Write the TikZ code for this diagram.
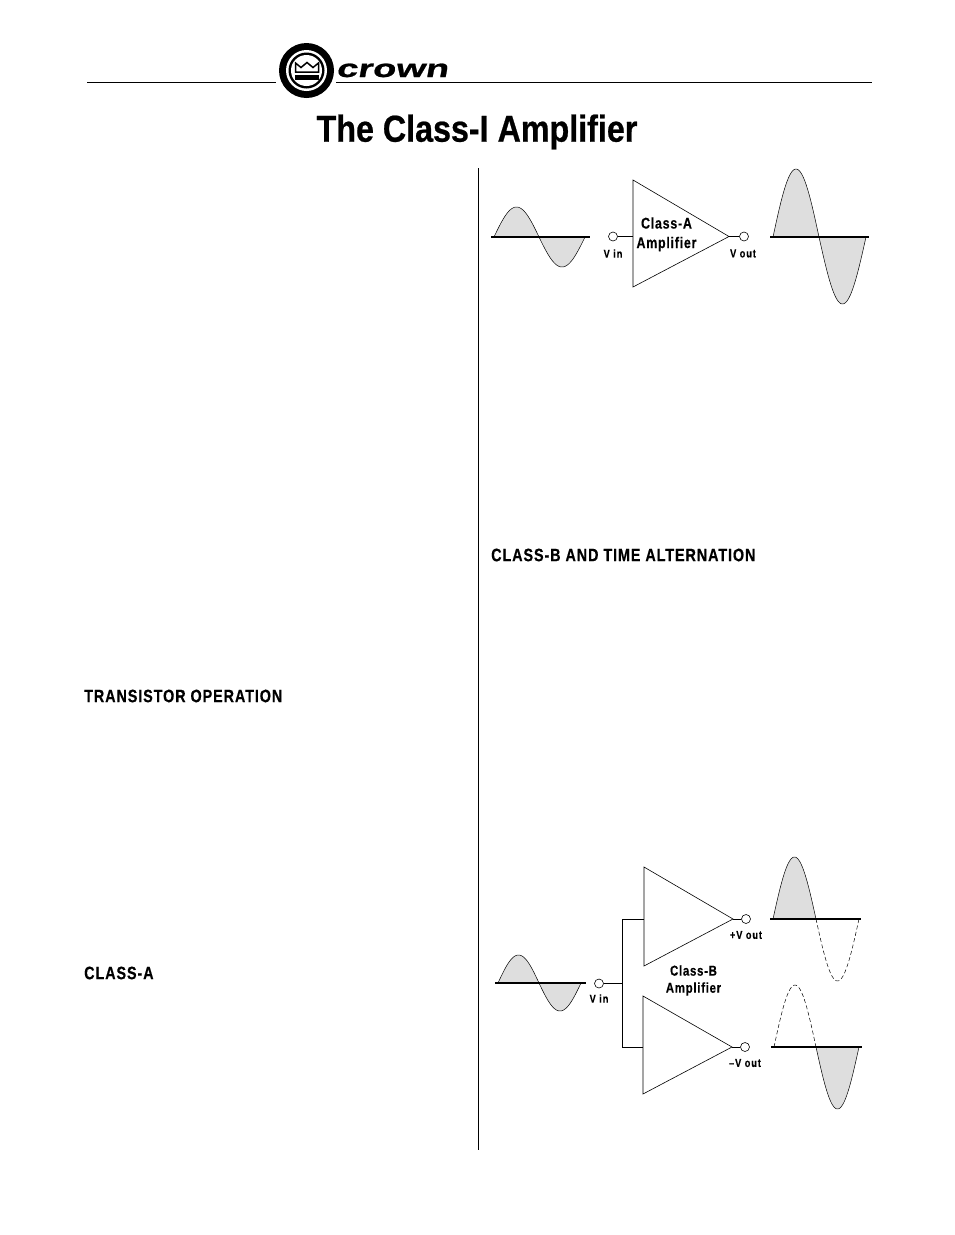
\documentclass[tikz,border=0pt]{standalone}
\usepackage{fontspec}
\setmainfont{Liberation Sans}
\newfontfamily\titlef[FakeStretch=0.86,FakeBold=0.6]{Liberation Sans}
\newfontfamily\headf[FakeStretch=0.8,LetterSpace=5,FakeBold=0.4]{Liberation Sans}
\newfontfamily\ampf[FakeStretch=0.8,LetterSpace=5,FakeBold=0.3]{Liberation Sans}
\newfontfamily\smallf[FakeStretch=0.8,LetterSpace=8,FakeBold=0.2]{Liberation Sans}
\newfontfamily\wordf[FakeStretch=1.52,FakeSlant=0.18,FakeBold=1]{Liberation Sans}
\definecolor{wavefill}{gray}{0.87}
\tikzset{
  x=1pt,y=-1pt,
  wire/.style={line width=0.9pt,black},
  base line/.style={line width=1.6pt,black},
  term/.style={circle,draw=black,line width=0.6pt,fill=white,minimum size=9pt,inner sep=0pt},
  amp/.style={draw=black,line width=0.6pt},
  amptext/.style={font=\ampf\bfseries\fontsize{15.5}{15.5}\selectfont,inner sep=0pt,anchor=center},
  amptextb/.style={font=\ampf\bfseries\fontsize{14.3}{14.3}\selectfont,inner sep=0pt,anchor=center},
  small/.style={font=\smallf\bfseries\fontsize{11.5}{12}\selectfont,inner sep=0pt,anchor=center},
  heading/.style={font=\headf\bfseries\fontsize{18}{18}\selectfont,inner sep=0pt,anchor=west},
  half/.style={line width=0.5pt,black,fill=wavefill},
  ghost/.style={line width=0.5pt,black,dashed,dash pattern=on 4pt off 2.5pt},
}
% half wave: #1 style, #2 x from, #3 x to, #4 baseline, #5 signed peak offset
\newcommand{\halfwave}[5]{\draw[#1] plot[domain=0:180,samples=40,smooth] ({#2+(#3-#2)*\x/180},{#4-(#5)*sin(\x)});}
\begin{document}
\begin{tikzpicture}
\useasboundingbox (0,0) rectangle (954,1235);
% header
\coordinate (ruleAL) at (87,82); \coordinate (ruleAR) at (276,82);
\coordinate (ruleBL) at (336,82); \coordinate (ruleBR) at (872,82);
\draw[line width=0.7pt] (ruleAL) -- (ruleAR);
\draw[line width=0.7pt] (ruleBL) -- (ruleBR);
\fill[black] (306.5,70.5) circle (27.5);
\fill[white] (306.5,70.5) circle (20.5);
\fill[black] (306.5,70.5) circle (18);
\fill[white] (306.5,70.5) circle (15.5);
\fill[black] (294.5,75) rectangle (319,79.5);
\draw[black,line width=1.5pt,line join=miter] (295.5,72) -- (295.5,63) -- (301,67.5) -- (307,62.5) -- (313,67.5) -- (318.5,63) -- (318.5,72) -- cycle;
\node[font=\wordf\bfseries\fontsize{25}{25}\selectfont,inner sep=0pt,anchor=base] (word) at (392,77) {crown};
\node[font=\titlef\bfseries\fontsize{37.5}{38}\selectfont,inner sep=0pt,anchor=center] (title) at (477,132) {The Class-I Amplifier};
% column rule
\coordinate (colT) at (478,168); \coordinate (colB) at (478,1150);
\draw[line width=0.8pt] (colT) -- (colB);
% headings
\node[heading] (h1) at (84,696) {TRANSISTOR OPERATION};
\node[heading] (h2) at (84,973) {CLASS-A};
\node[heading] (h3) at (491,555) {CLASS-B AND TIME ALTERNATION};
% Class-A: input wave
\halfwave{half}{494}{539}{237}{30}
\halfwave{half}{539}{585}{237}{-30}
\coordinate (aiL) at (491,237); \coordinate (aiR) at (590,237);
\draw[base line] (aiL) -- (aiR);
% Class-A: amplifier
\coordinate (aT) at (633,180); \coordinate (aB) at (633,287); \coordinate (aO) at (729,236.5); \coordinate (aI) at (633,236.5);
\draw[amp] (aT) -- (aO) -- (aB) -- cycle;
\node[term] (vinA) at (613,236.5) {};
\node[term] (voutA) at (744,236.5) {};
\draw[wire] (vinA) -- (aI);
\draw[wire] (aO) -- (voutA);
\node[small] (lvinA) at (613,253.5) {V in};
\node[small] (lvoutA) at (743,253.5) {V out};
\node[amptext] (tA1) at (666.5,223) {Class-A};
\node[amptext] (tA2) at (666.5,244) {Amplifier};
% Class-A: output wave
\halfwave{half}{773}{819}{237}{68}
\halfwave{half}{819}{866}{237}{-67}
\coordinate (aoL) at (770,237); \coordinate (aoR) at (869,237);
\draw[base line] (aoL) -- (aoR);
% Class-B: input wave
\halfwave{half}{498}{539}{983}{28}
\halfwave{half}{539}{581}{983}{-28}
\coordinate (biL) at (495,983); \coordinate (biR) at (586,983);
\draw[base line] (biL) -- (biR);
% Class-B: wiring
\node[term] (vinB) at (599,983.5) {};
\coordinate (junc) at (622,983.5);
\coordinate (jT) at (622,919); \coordinate (jB) at (622,1047);
\coordinate (uI) at (644,919); \coordinate (lI) at (643,1047);
\draw[wire] (vinB) -- (junc);
\draw[wire] (uI) -- (jT) -- (jB) -- (lI);
% Class-B: amplifiers
\coordinate (uT) at (644,867); \coordinate (uB) at (644,966); \coordinate (uO) at (733,919);
\coordinate (lT) at (643,996); \coordinate (lB) at (643,1094); \coordinate (lO) at (732,1047);
\draw[amp] (uT) -- (uO) -- (uB) -- cycle;
\draw[amp] (lT) -- (lO) -- (lB) -- cycle;
\node[term] (vopB) at (746,919) {};
\node[term] (vonB) at (745,1047) {};
\draw[wire] (uO) -- (vopB);
\draw[wire] (lO) -- (vonB);
\node[small] (lvinB) at (599,998.5) {V in};
\node[small] (lvop) at (746,935) {+V out};
\node[small] (lvon) at (745,1063) {–V out};
\node[amptextb] (tB1) at (693.5,970.5) {Class-B};
\node[amptextb] (tB2) at (693.5,989) {Amplifier};
% Class-B: upper output
\halfwave{half}{773}{816}{919}{62}
\halfwave{ghost}{816}{859}{919}{-62}
\coordinate (uoL) at (770,919); \coordinate (uoR) at (861,919);
\draw[base line] (uoL) -- (uoR);
% Class-B: lower output
\halfwave{ghost}{774}{816}{1047}{62}
\halfwave{half}{816}{859}{1047}{-62}
\coordinate (loL) at (771,1047); \coordinate (loR) at (862,1047);
\draw[base line] (loL) -- (loR);
\end{tikzpicture}
\end{document}
